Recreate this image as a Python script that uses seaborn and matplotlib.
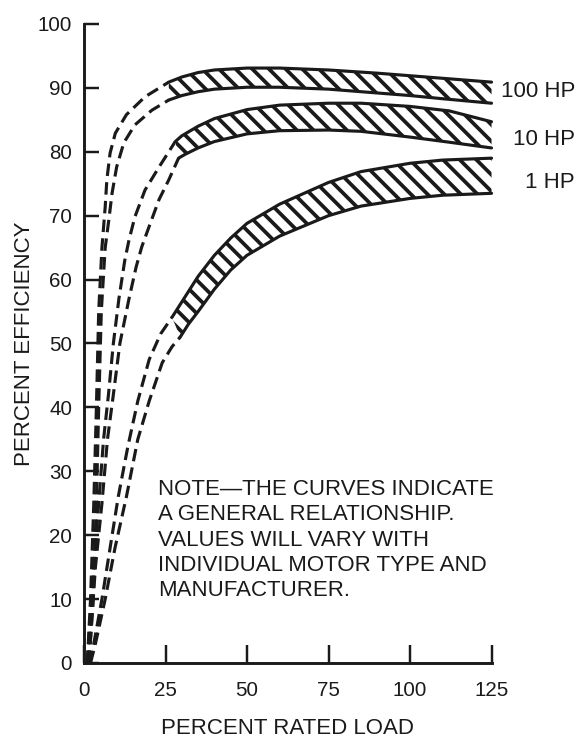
import matplotlib
matplotlib.use("Agg")
import matplotlib.pyplot as plt
import seaborn as sns

# axis ticks
load_ticks = [0, 25, 50, 75, 100, 125]
eff_ticks = [0, 10, 20, 30, 40, 50, 60, 70, 80, 90, 100]

# hatched bands (upper / lower edge)
hp100_up_x = [26, 30, 35, 40, 50, 60, 75, 90, 100, 110, 125]
hp100_up_y = [90.9, 91.7, 92.4, 92.8, 93.1, 93.1, 92.8, 92.3, 91.9, 91.5, 90.9]
hp100_lo_x = [26, 30, 35, 40, 50, 60, 75, 90, 100, 110, 125]
hp100_lo_y = [88.1, 88.8, 89.4, 89.8, 90.1, 90.1, 89.8, 89.2, 88.8, 88.3, 87.6]

hp10_up_x = [28, 30, 35, 40, 50, 60, 75, 85, 100, 112, 125]
hp10_up_y = [81.6, 82.5, 84.0, 85.2, 86.6, 87.3, 87.6, 87.6, 87.1, 86.4, 84.7]
hp10_lo_x = [29, 31, 35, 40, 50, 60, 75, 85, 100, 112, 125]
hp10_lo_y = [79.0, 79.6, 80.6, 81.6, 82.8, 83.3, 83.4, 83.2, 82.3, 81.5, 80.6]

hp1_up_x = [27, 30, 35, 40, 45, 50, 60, 75, 85, 100, 110, 125]
hp1_up_y = [54.1, 56.5, 60.5, 63.8, 66.5, 68.8, 71.8, 75.2, 76.9, 78.2, 78.7, 79.0]
hp1_lo_x = [29.5, 32, 35, 40, 45, 50, 60, 75, 85, 100, 110, 125]
hp1_lo_y = [51.0, 53.0, 55.0, 58.5, 61.5, 63.8, 66.8, 70.0, 71.5, 72.7, 73.2, 73.5]

# dashed low-load parts
hp100_dup_x = [1, 2, 3, 3.8, 4.5, 5.5, 6.5, 7, 8, 9.6, 13, 18.7, 26]
hp100_dup_y = [0, 10, 25, 40, 55, 65, 71.4, 75.6, 79.8, 82.9, 85.8, 88.6, 90.9]
hp100_dlo_x = [1.5, 2.8, 3.8, 4.5, 5.3, 6.5, 7.6, 8.6, 10, 12.2, 15.6, 20.8, 26]
hp100_dlo_y = [0, 10, 25, 40, 55, 65, 69.3, 73.5, 77.6, 81.4, 84.2, 86.5, 88.1]

hp10_dup_x = [1, 3, 4.5, 6, 7.5, 9, 10.7, 12.5, 13.8, 15.6, 18.7, 23, 28]
hp10_dup_y = [0, 15, 25, 35, 42, 50, 57, 63, 66.2, 69.8, 74, 77.6, 81.6]
hp10_dlo_x = [1.5, 3.5, 5.5, 7.2, 9, 11, 13.8, 16, 17.7, 19.9, 23, 26, 29]
hp10_dlo_y = [0, 15, 25, 35, 42, 50, 57, 62, 65.1, 68.2, 72.5, 75.6, 79.0]

hp1_dup_x = [1.5, 3, 5.5, 8, 10.5, 13.5, 16.5, 20, 23.5, 27]
hp1_dup_y = [0, 3, 10, 18, 26, 34, 41, 47.5, 51.5, 54.1]
hp1_dlo_x = [2, 3.5, 6.5, 9.5, 13, 16.5, 20, 24, 27, 29.5]
hp1_dlo_y = [0, 3, 10, 18, 26, 35, 41, 47, 49.5, 51.0]

motor_labels = ["100 HP", "10 HP", "1 HP"]
label_y = [88.6, 81.1, 74.3]

note = ("NOTE\u2014THE CURVES INDICATE\n"
        "A GENERAL RELATIONSHIP.\n"
        "VALUES WILL VARY WITH\n"
        "INDIVIDUAL MOTOR TYPE AND\n"
        "MANUFACTURER.")

sns.set_style("ticks")
plt.rcParams['font.family'] = ['Liberation Sans', 'DejaVu Sans']
plt.rcParams['hatch.linewidth'] = 2.7
ink = '#1a1a1a'

fig = plt.figure(figsize=(5.81, 7.4), dpi=100)
ax = fig.add_axes([0.1446, 0.1041, 0.7014, 0.8635])

bands = [
    (hp100_up_x, hp100_up_y, hp100_lo_x, hp100_lo_y,
     hp100_dup_x, hp100_dup_y, hp100_dlo_x, hp100_dlo_y),
    (hp10_up_x, hp10_up_y, hp10_lo_x, hp10_lo_y,
     hp10_dup_x, hp10_dup_y, hp10_dlo_x, hp10_dlo_y),
    (hp1_up_x, hp1_up_y, hp1_lo_x, hp1_lo_y,
     hp1_dup_x, hp1_dup_y, hp1_dlo_x, hp1_dlo_y),
]

for ux, uy, lx, ly, dux, duy, dlx, dly in bands:
    # dashed part at light load
    for xs, ys in [(dux, duy), (dlx, dly)]:
        sns.lineplot(x=xs, y=ys, ax=ax, color=ink, linewidth=2.25,
                     linestyle=(0, (4, 2)), estimator=None, clip_on=False)
    # hatched band
    ax.fill(ux + lx[::-1], uy + ly[::-1], facecolor='white',
            edgecolor=ink, linewidth=0, hatch='\\\\', zorder=3, clip_on=False)
    for xs, ys in [(ux, uy), (lx, ly)]:
        sns.lineplot(x=xs, y=ys, ax=ax, color=ink, linewidth=2.25,
                     estimator=None, zorder=4, clip_on=False)

for lab, ly_ in zip(motor_labels, label_y):
    ax.text(150.6, ly_, lab, ha='right', va='baseline', fontsize=16,
            color=ink, clip_on=False)

ax.text(22.7, 28.8, note, ha='left', va='top', fontsize=16,
        linespacing=1.27, color=ink)

ax.set_xlim(0, 125)
ax.set_ylim(0, 100)
ax.set_xticks(load_ticks)
ax.set_yticks(eff_ticks)
sns.despine(ax=ax)
for side in ['left', 'bottom']:
    ax.spines[side].set_linewidth(2.1)
    ax.spines[side].set_color(ink)
ax.tick_params(axis='y', direction='in', length=10.8, width=1.76, pad=8.6,
               labelsize=14.8, colors=ink)
ax.tick_params(axis='x', direction='in', length=12.8, width=1.76, pad=12.8,
               labelsize=14.8, colors=ink)
ax.set_xlabel('PERCENT RATED LOAD', fontsize=16, labelpad=12.8, color=ink)
ax.set_ylabel('PERCENT EFFICIENCY', fontsize=16, labelpad=1.6, color=ink)

fig.savefig('out.png', dpi=100, facecolor='white')
